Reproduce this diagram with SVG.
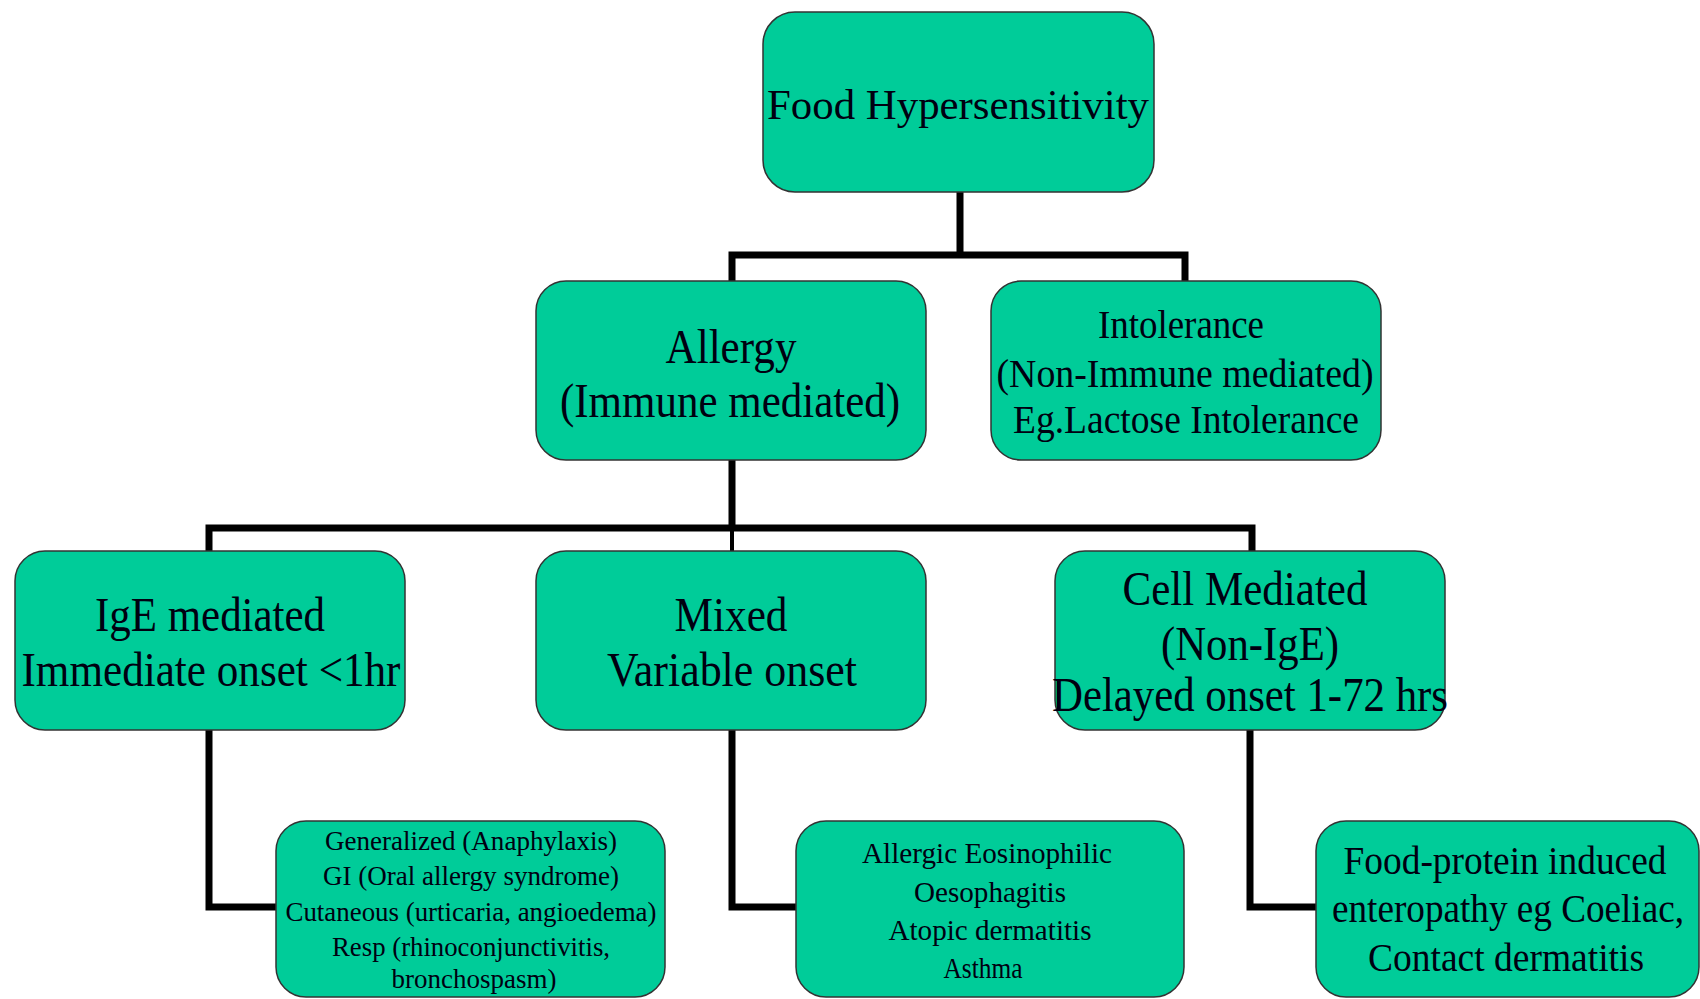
<svg xmlns="http://www.w3.org/2000/svg" width="1700" height="999" viewBox="0 0 1700 999">
<style>
.box{fill:#00CC99;stroke:#333333;stroke-width:1.5}
.t{font-family:"Liberation Serif","Times New Roman",serif;fill:#000011;text-anchor:middle}
.conn{fill:none;stroke:#000;stroke-width:7;stroke-linejoin:miter;stroke-linecap:square}
</style>
<rect width="1700" height="999" fill="#ffffff"/>
<g id="connectors">
<path class="conn" d="M960 192 V255 M732 281 V255 H1185 V281"/>
<path class="conn" d="M732 460 V528 M209 551 V528 H1252 V551"/>
<path d="M732 528 V551" stroke="#000" stroke-width="4" fill="none"/>
<path class="conn" d="M209 730 V907 H276"/>
<path class="conn" d="M732 730 V907 H796"/>
<path class="conn" d="M1250 730 V907 H1316"/>
</g>
<g id="food-hypersensitivity">
<rect class="box" x="763" y="12" width="391" height="180" rx="32"/>
<text class="t" x="958" y="119" font-size="43" textLength="382" lengthAdjust="spacingAndGlyphs">Food Hypersensitivity</text>
</g>
<g id="allergy">
<rect class="box" x="536" y="281" width="390" height="179" rx="30"/>
<text class="t" x="731" y="363" font-size="48" textLength="131" lengthAdjust="spacingAndGlyphs">Allergy</text>
<text class="t" x="730" y="417" font-size="48" textLength="340" lengthAdjust="spacingAndGlyphs">(Immune mediated)</text>
</g>
<g id="intolerance">
<rect class="box" x="991" y="281" width="390" height="179" rx="30"/>
<text class="t" x="1181" y="338" font-size="40" textLength="166" lengthAdjust="spacingAndGlyphs">Intolerance</text>
<text class="t" x="1185" y="387" font-size="40" textLength="377" lengthAdjust="spacingAndGlyphs">(Non-Immune mediated)</text>
<text class="t" x="1186" y="433" font-size="40" textLength="346" lengthAdjust="spacingAndGlyphs">Eg.Lactose Intolerance</text>
</g>
<g id="ige-mediated">
<rect class="box" x="15" y="551" width="390" height="179" rx="30"/>
<text class="t" x="210" y="631" font-size="48" textLength="230" lengthAdjust="spacingAndGlyphs">IgE mediated</text>
<text class="t" x="211" y="686" font-size="48" textLength="379" lengthAdjust="spacingAndGlyphs">Immediate onset &lt;1hr</text>
</g>
<g id="mixed">
<rect class="box" x="536" y="551" width="390" height="179" rx="30"/>
<text class="t" x="731" y="631" font-size="48" textLength="113" lengthAdjust="spacingAndGlyphs">Mixed</text>
<text class="t" x="732" y="686" font-size="48" textLength="250" lengthAdjust="spacingAndGlyphs">Variable onset</text>
</g>
<g id="cell-mediated">
<rect class="box" x="1055" y="551" width="390" height="179" rx="30"/>
<text class="t" x="1245" y="605" font-size="48" textLength="245" lengthAdjust="spacingAndGlyphs">Cell Mediated</text>
<text class="t" x="1250" y="660" font-size="48" textLength="178" lengthAdjust="spacingAndGlyphs">(Non-IgE)</text>
<text class="t" x="1250" y="711" font-size="48" textLength="396" lengthAdjust="spacingAndGlyphs">Delayed onset 1-72 hrs</text>
</g>
<g id="ige-examples">
<rect class="box" x="276" y="821" width="389" height="176" rx="30"/>
<text class="t" x="471" y="850" font-size="27" textLength="292" lengthAdjust="spacingAndGlyphs">Generalized (Anaphylaxis)</text>
<text class="t" x="471" y="885" font-size="27" textLength="296" lengthAdjust="spacingAndGlyphs">GI (Oral allergy syndrome)</text>
<text class="t" x="471" y="921" font-size="27" textLength="371" lengthAdjust="spacingAndGlyphs">Cutaneous (urticaria, angioedema)</text>
<text class="t" x="471" y="956" font-size="27" textLength="278" lengthAdjust="spacingAndGlyphs">Resp (rhinoconjunctivitis,</text>
<text class="t" x="474" y="988" font-size="27" textLength="165" lengthAdjust="spacingAndGlyphs">bronchospasm)</text>
</g>
<g id="mixed-examples">
<rect class="box" x="796" y="821" width="388" height="176" rx="30"/>
<text class="t" x="987" y="863" font-size="30" textLength="250" lengthAdjust="spacingAndGlyphs">Allergic Eosinophilic</text>
<text class="t" x="990" y="902" font-size="30" textLength="152" lengthAdjust="spacingAndGlyphs">Oesophagitis</text>
<text class="t" x="990" y="940" font-size="30" textLength="203" lengthAdjust="spacingAndGlyphs">Atopic dermatitis</text>
<text class="t" x="983" y="978" font-size="30" textLength="79" lengthAdjust="spacingAndGlyphs">Asthma</text>
</g>
<g id="cell-examples">
<rect class="box" x="1316" y="821" width="383" height="176" rx="30"/>
<text class="t" x="1505" y="874" font-size="40" textLength="323" lengthAdjust="spacingAndGlyphs">Food-protein induced</text>
<text class="t" x="1508" y="922" font-size="40" textLength="352" lengthAdjust="spacingAndGlyphs">enteropathy eg Coeliac,</text>
<text class="t" x="1506" y="971" font-size="40" textLength="276" lengthAdjust="spacingAndGlyphs">Contact dermatitis</text>
</g>
</svg>
